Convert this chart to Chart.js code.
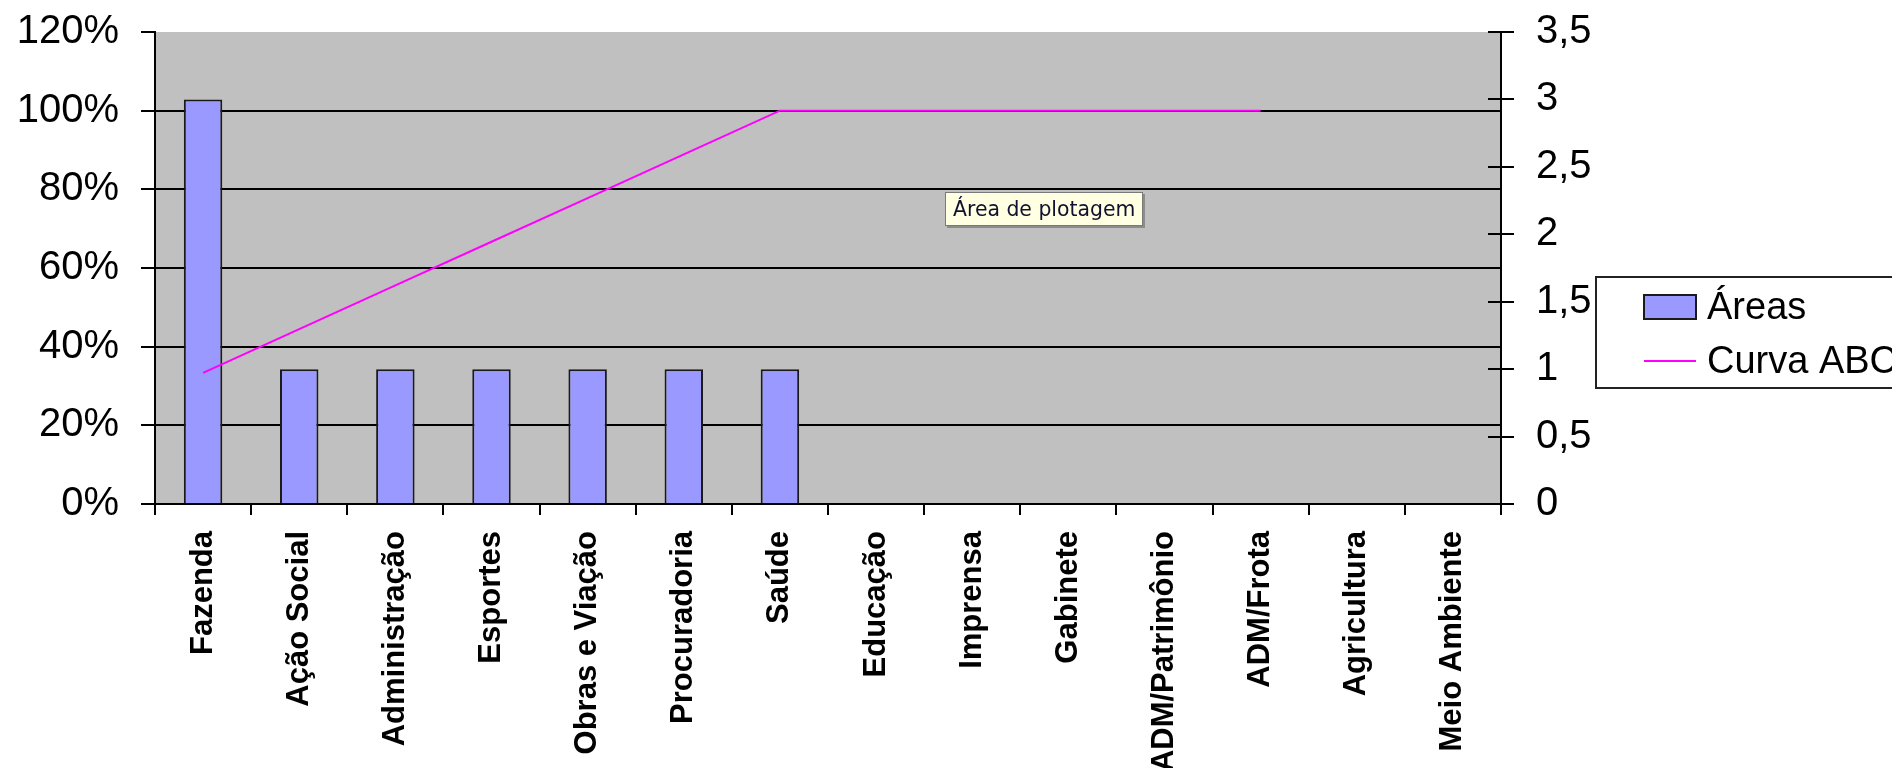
<!DOCTYPE html>
<html>
<head>
<meta charset="utf-8">
<script src="https://cdn.jsdelivr.net/npm/chart.js@4.4.1/dist/chart.umd.min.js"></script>
<style>
  html, body { margin: 0; padding: 0; background: #ffffff; overflow: hidden; }
  #wrap { position: relative; width: 1892px; height: 768px; }
  #note {
    position: absolute; left: 945px; top: 192px; width: 198px; height: 34px;
    box-sizing: border-box; background: #ffffe1; border: 1px solid #7a7a7a;
    box-shadow: 2px 2px 0 #8c8c8c;
    font: 20.4px "DejaVu Sans", Verdana, sans-serif; color: #101030;
    line-height: 32px; padding-left: 7px; white-space: nowrap;
  }
</style>
</head>
<body>
<div id="wrap">
  <canvas id="c" width="1892" height="768"></canvas>
  <div id="note">Área de plotagem</div>
</div>
<script>
// Departments, in ABC order
const categories = [
  'Fazenda', 'Ação Social', 'Administração', 'Esportes', 'Obras e Viação',
  'Procuradoria', 'Saúde', 'Educação', 'Imprensa', 'Gabinete',
  'ADM/Patrimônio', 'ADM/Frota', 'Agricultura', 'Meio Ambiente'
];
// Number of occurrences per department (right axis)
const areaCounts = [3, 1, 1, 1, 1, 1, 1, 0, 0, 0, 0, 0, 0, 0];
// Cumulative share, in percent (left axis)
const abcCurve = [33.33, 44.44, 55.56, 66.67, 77.78, 88.89, 100, 100, 100, 100, 100, 100, null, null];
// Axis ticks
const percentTicks = [0, 20, 40, 60, 80, 100, 120];
const countTicks = [0, 0.5, 1, 1.5, 2, 2.5, 3, 3.5];

const FONT = '"Liberation Sans", Arial, sans-serif';

// Grey plot area behind everything
const plotBackground = {
  id: 'plotBackground',
  beforeDraw(chart) {
    const { ctx, chartArea: a } = chart;
    ctx.save();
    ctx.fillStyle = '#c0c0c0';
    ctx.fillRect(a.left, a.top, a.right - a.left, a.bottom - a.top);
    ctx.restore();
  }
};

// Right axis tick marks also reach into the plot area
const innerTicks = {
  id: 'innerTicks',
  afterDraw(chart) {
    const s = chart.scales.yR;
    const { ctx } = chart;
    ctx.save();
    ctx.strokeStyle = '#000';
    ctx.lineWidth = 2;
    ctx.beginPath();
    s.ticks.forEach(t => {
      const y = Math.round(s.getPixelForValue(t.value));
      ctx.moveTo(s.left - 13, y);
      ctx.lineTo(s.left, y);
    });
    ctx.stroke();
    ctx.restore();
  }
};

// Boxed legend to the right of the plot
const boxLegend = {
  id: 'boxLegend',
  afterDraw(chart, args, o) {
    const { ctx } = chart;
    const sets = chart.data.datasets;
    ctx.save();
    ctx.fillStyle = '#ffffff';
    ctx.fillRect(o.left, o.top, o.width, o.height);
    ctx.strokeStyle = '#222';
    ctx.lineWidth = 2;
    ctx.strokeRect(o.left, o.top, o.width, o.height);
    ctx.font = '38px ' + FONT;
    ctx.textBaseline = 'alphabetic';
    ctx.textAlign = 'left';
    sets.forEach((ds, i) => {
      const cy = o.firstRow + i * o.rowGap;
      if (ds.type === 'bar') {
        ctx.fillStyle = ds.backgroundColor;
        ctx.fillRect(o.swatchX, cy - 12, o.swatchW, 24);
        ctx.strokeStyle = '#1a1a1a';
        ctx.lineWidth = 2;
        ctx.strokeRect(o.swatchX, cy - 12, o.swatchW, 24);
      } else {
        ctx.strokeStyle = ds.borderColor;
        ctx.lineWidth = 2;
        ctx.beginPath();
        ctx.moveTo(o.swatchX, cy);
        ctx.lineTo(o.swatchX + o.swatchW, cy);
        ctx.stroke();
      }
      ctx.fillStyle = '#000';
      ctx.fillText(ds.label, o.textX, cy + 12);
    });
    ctx.restore();
  }
};

// Value axes: keep their labels from pushing the plot area inwards
function fixValueAxis(width) {
  return s => {
    s.width = width;
    s.paddingTop = 0;
    s.paddingBottom = 0;
  };
}

new Chart(document.getElementById('c'), {
  data: {
    labels: categories,
    datasets: [
      {
        type: 'bar',
        label: 'Áreas',
        data: areaCounts,
        yAxisID: 'yR',
        backgroundColor: '#9999ff',
        borderColor: '#1a1a1a',
        borderWidth: 2,
        barPercentage: 0.4,
        categoryPercentage: 1,
        order: 1
      },
      {
        type: 'line',
        label: 'Curva ABC',
        data: abcCurve,
        yAxisID: 'yL',
        borderColor: '#ff00ff',
        borderWidth: 2,
        pointRadius: 0,
        tension: 0,
        fill: false,
        spanGaps: false,
        order: 0
      }
    ]
  },
  options: {
    responsive: false,
    animation: false,
    layout: { padding: { top: 32, left: 0, right: 0, bottom: 0 } },
    plugins: {
      legend: { display: false },
      tooltip: { enabled: false },
      boxLegend: {
        left: 1596, top: 277, width: 320, height: 111,
        firstRow: 307, rowGap: 54, swatchX: 1644, swatchW: 52, textX: 1707
      }
    },
    scales: {
      x: {
        type: 'category',
        offset: true,
        grid: { display: true, drawOnChartArea: false, offset: true, color: '#000', lineWidth: 2, tickLength: 11 },
        border: { color: '#000', width: 2 },
        ticks: {
          autoSkip: false, minRotation: 90, maxRotation: 90, padding: 16,
          color: '#000', font: { family: FONT, size: 31, weight: 'bold' }
        },
        afterFit(s) { s.height = 264; }
      },
      yL: {
        position: 'left',
        min: 0, max: 120,
        afterBuildTicks(s) { s.ticks = percentTicks.map(v => ({ value: v })); },
        grid: {
          color: c => (c.tick && c.tick.value === 120 ? 'rgba(0,0,0,0)' : '#000'),
          tickColor: '#000', lineWidth: 2, tickLength: 14
        },
        border: { color: '#000', width: 2 },
        ticks: {
          padding: 22, color: '#000', font: { family: FONT, size: 40 },
          callback: v => v + '%'
        },
        afterFit: fixValueAxis(155)
      },
      yR: {
        position: 'right',
        min: 0, max: 3.5,
        afterBuildTicks(s) { s.ticks = countTicks.map(v => ({ value: v })); },
        grid: { drawOnChartArea: false, color: '#000', lineWidth: 2, tickLength: 13 },
        border: { color: '#000', width: 2 },
        ticks: {
          padding: 22, color: '#000', font: { family: FONT, size: 40 },
          callback: v => String(v).replace('.', ',')
        },
        afterFit: fixValueAxis(391)
      }
    }
  },
  plugins: [plotBackground, innerTicks, boxLegend]
});
</script>
</body>
</html>
